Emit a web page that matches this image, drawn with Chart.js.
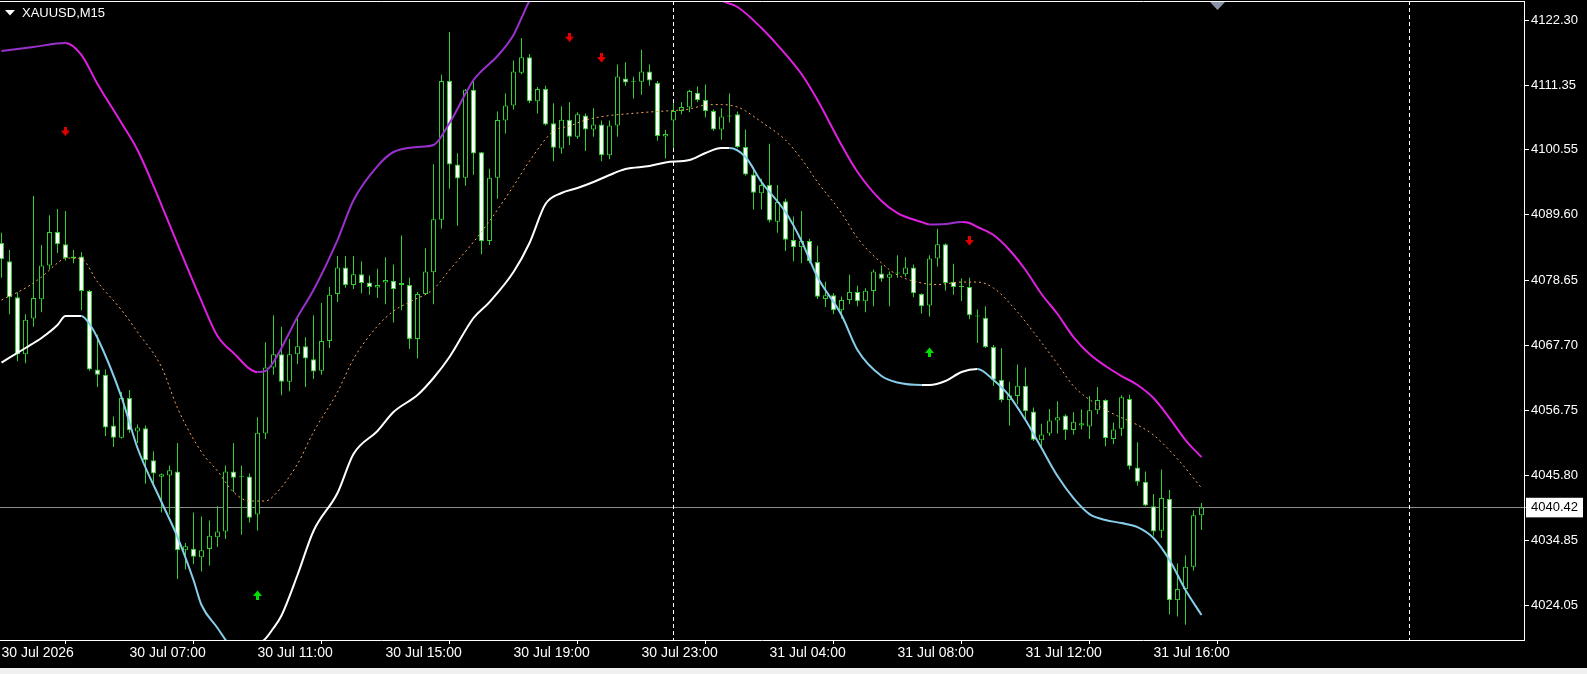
<!DOCTYPE html>
<html><head><meta charset="utf-8">
<script src="https://cdn.jsdelivr.net/npm/chart.js@4.4.1/dist/chart.umd.min.js"></script>
<style>
html,body{margin:0;padding:0;background:#f0f0f0;width:1587px;height:674px;overflow:hidden;}
#wrap{position:absolute;left:0;top:0;width:1587px;height:668px;background:#000;}
#c{position:absolute;left:0;top:0;}
#title{position:absolute;left:22px;top:5px;color:#fff;font:13px "Liberation Sans",Arial,sans-serif;white-space:nowrap;}
</style></head><body>
<div id="wrap"><canvas id="c" width="1587" height="668"></canvas><div id="title">XAUUSD,M15</div></div>
<script>
// ---- candle data (M15 bars, index 0..150) ----
const open = [4084.88,4081.79,4075.76,4066.16,4072.19,4075.42,4081.11,4086.73,4084.67,4082.27,
4082.62,4076.79,4063.62,4062.73,4054.22,4052.16,4058.82,4053.19,4053.74,4048.39,
4045.58,4045.79,4046.47,4033.23,4033.51,4032.07,4033.44,4035.43,4036.39,4046.47,
4045.58,4045.65,4039.27,4052.85,4063.96,4066.16,4061.56,4066.16,4067.53,4065.33,
4063.41,4068.42,4076.31,4080.77,4077.82,4079.60,4078.23,4077.40,4078.23,4078.50,
4078.16,4077.82,4068.76,4076.31,4079.94,4088.79,4112.11,4098.05,4095.85,4110.60,
4100.11,4085.22,4095.85,4105.46,4107.99,4113.48,4116.09,4108.68,4110.74,4104.98,
4100.73,4105.59,4102.71,4106.28,4103.95,4104.77,4099.63,4104.63,4112.52,4111.97,
4111.97,4113.69,4111.77,4102.78,4105.46,4107.03,4107.65,4110.12,4108.89,4107.03,
4103.95,4106.14,4106.49,4101.00,4096.40,4093.25,4094.62,4088.45,4091.88,4085.36,
4084.19,4085.22,4081.66,4075.48,4076.10,4073.56,4075.28,4076.65,4075.07,4076.79,
4079.74,4079.05,4079.74,4079.60,4080.77,4076.31,4074.39,4082.27,4084.67,4078.36,
4077.47,4077.47,4072.53,4072.33,4067.39,4061.90,4058.48,4059.16,4060.88,4056.55,
4051.75,4052.85,4055.05,4055.87,4053.47,4054.22,4054.02,4056.76,4058.48,4051.96,
4053.67,4058.68,4047.16,4044.76,4040.64,4036.53,4041.88,4024.87,4026.72,4030.49,
4039.13];
const high = [4086.60,4083.71,4076.58,4072.88,4092.77,4084.54,4089.54,4090.57,4090.23,4083.71,
4083.30,4076.99,4069.45,4063.62,4055.73,4059.85,4060.19,4054.36,4054.22,4049.90,
4046.13,4047.50,4051.27,4034.47,4039.61,4038.93,4038.24,4040.64,4047.50,4051.27,
4047.50,4046.13,4055.59,4068.21,4072.74,4070.82,4068.76,4072.19,4069.04,4072.74,
4074.80,4077.47,4082.69,4082.69,4082.69,4081.79,4079.39,4080.56,4082.48,4081.25,
4086.12,4079.05,4076.65,4083.99,4098.12,4113.14,4120.34,4099.97,4110.74,4112.11,
4100.18,4097.36,4106.97,4110.05,4115.54,4119.31,4116.64,4111.08,4111.29,4108.34,
4107.86,4108.54,4106.83,4106.62,4107.51,4105.46,4105.46,4114.85,4115.26,4112.80,
4117.32,4114.85,4112.11,4103.88,4108.41,4108.54,4110.60,4111.15,4111.49,4107.31,
4107.51,4110.05,4106.97,4103.95,4097.57,4095.65,4101.55,4094.62,4092.29,4089.34,
4090.23,4085.57,4084.40,4078.36,4076.44,4075.90,4079.53,4077.68,4077.27,4080.42,
4081.11,4080.08,4082.82,4082.48,4081.25,4076.44,4082.82,4087.28,4084.81,4081.38,
4078.91,4079.05,4073.70,4074.25,4067.73,4067.18,4061.56,4064.44,4063.96,4057.24,
4054.50,4056.97,4058.27,4056.08,4056.42,4056.90,4059.16,4060.67,4058.61,4054.70,
4059.30,4059.37,4051.41,4046.47,4042.70,4046.81,4043.39,4031.04,4032.41,4039.96,
4041.19];
const low = [4079.05,4072.88,4064.99,4064.65,4070.82,4073.22,4080.42,4083.17,4081.93,4081.45,
4073.56,4063.41,4060.67,4052.44,4050.59,4052.03,4052.99,4051.27,4044.41,4044.41,
4039.61,4039.27,4028.43,4030.01,4030.90,4029.67,4030.70,4033.78,4035.16,4043.04,
4035.84,4037.90,4036.53,4051.96,4062.73,4059.30,4059.98,4064.51,4060.67,4062.04,
4062.73,4067.25,4074.94,4077.34,4077.13,4076.44,4076.17,4075.62,4074.59,4071.51,
4073.56,4067.05,4065.47,4076.17,4074.59,4087.28,4094.00,4087.76,4094.48,4096.33,
4082.96,4084.54,4092.29,4103.26,4107.31,4113.21,4108.34,4106.62,4104.63,4098.60,
4099.90,4101.34,4102.37,4100.31,4102.71,4098.60,4098.94,4102.71,4111.29,4109.09,
4109.78,4111.29,4102.03,4099.08,4100.86,4106.49,4106.83,4108.54,4106.01,4103.74,
4102.23,4105.11,4100.79,4096.20,4090.50,4090.50,4088.31,4086.60,4083.51,4081.79,
4081.45,4081.45,4075.48,4074.11,4072.88,4072.19,4074.59,4074.25,4073.22,4074.25,
4078.36,4074.25,4079.05,4079.19,4075.76,4073.02,4072.53,4080.90,4076.86,4076.17,
4075.14,4072.05,4068.08,4067.25,4060.88,4058.13,4054.22,4057.79,4055.05,4051.62,
4050.24,4052.44,4052.85,4051.82,4052.64,4053.54,4051.96,4056.08,4050.72,4051.07,
4052.44,4046.81,4044.07,4040.64,4035.70,4035.29,4022.47,4022.12,4020.75,4029.81,
4036.66];
const close = [4082.14,4075.76,4066.16,4071.99,4075.62,4081.11,4086.73,4084.67,4082.34,4082.62,
4076.79,4063.62,4062.73,4053.88,4052.16,4058.82,4053.40,4053.88,4048.39,4046.13,
4046.00,4046.68,4033.23,4033.92,4032.14,4033.23,4035.70,4036.39,4046.47,4045.44,
4045.60,4038.72,4052.99,4063.96,4066.16,4061.56,4066.16,4067.53,4065.47,4063.28,
4068.42,4076.17,4080.77,4077.82,4079.60,4078.16,4077.47,4077.82,4078.64,4077.13,
4077.82,4068.76,4076.31,4080.08,4088.86,4112.11,4098.05,4095.72,4110.60,4099.90,
4085.16,4095.85,4105.53,4107.99,4113.69,4116.09,4108.68,4110.74,4104.77,4100.86,
4105.59,4102.71,4106.49,4103.95,4104.77,4099.63,4104.63,4112.86,4111.84,4111.99,
4113.69,4112.18,4102.85,4103.19,4107.03,4107.72,4110.40,4108.89,4107.03,4103.95,
4106.14,4106.16,4101.00,4096.40,4093.32,4094.62,4088.65,4091.74,4085.43,4084.19,
4085.22,4081.79,4075.83,4076.10,4073.56,4075.28,4076.65,4075.07,4076.86,4080.08,
4078.85,4079.60,4079.76,4080.77,4076.44,4074.25,4082.27,4084.67,4078.16,4077.47,
4077.49,4072.74,4072.55,4067.39,4061.90,4058.48,4059.30,4060.88,4056.62,4051.82,
4052.71,4055.05,4055.59,4053.47,4054.84,4054.57,4056.76,4058.48,4052.10,4053.54,
4058.95,4047.36,4044.76,4040.78,4036.39,4042.01,4024.87,4026.72,4030.49,4039.13,
4040.42];

// ---- indicator lines (read at sampled bar indices) ----
const upperIdx = [0,4,8,10,12,15,17,20,22,25,27,29,32,33,34,37,39,42,44,47,49,52,54,56,59,60,62,64,65,66,68,70,72,74,76,78,80,82,84,86,88,90,92,95,97,100,102,105,107,110,112,115,116,118,120,121,122,124,126,128,130,132,134,136,138,140,142,144,146,148,150];
const upperVal = [4117.13,4117.8,4118.47,4116.45,4111.58,4105.03,4100.49,4091.25,4084.70,4075.12,4069.24,4066.38,4063.19,4063.36,4064.87,4072.43,4076.97,4085.37,4092.06,4097.80,4100.16,4101.00,4101.33,4105.03,4112.25,4113.77,4116.29,4119.81,4122.67,4125.53,4128.5,4131.0,4132.8,4133.8,4134.3,4134.2,4133.5,4132.2,4130.6,4129.0,4127.3,4125.6,4124.52,4120.99,4118.13,4113.26,4108.89,4101.33,4096.80,4091.93,4089.91,4088.40,4087.98,4088.06,4088.40,4088.23,4087.56,4086.21,4083.69,4080.33,4076.30,4072.94,4069.07,4066.22,4064.20,4062.52,4061.01,4058.82,4055.46,4051.76,4048.90];

const midIdx = [0,3,5,7,8,10,12,15,17,20,22,25,27,29,31,33,34,37,39,42,44,47,49,51,54,56,59,61,64,66,69,71,73,76,78,81,83,86,88,90,92,93,95,98,100,102,105,107,110,112,115,117,120,122,124,127,129,132,134,137,139,142,144,147,150];
const midVal = [4075.29,4077.31,4079.15,4081.51,4082.35,4082.18,4078.32,4073.61,4069.91,4064.03,4057.14,4049.75,4046.56,4043.03,4041.52,4041.52,4042.36,4047.74,4053.11,4059.83,4065.38,4070.92,4073.44,4074.95,4077.14,4080.33,4085.04,4088.56,4094.44,4098.64,4103.68,4104.52,4105.53,4106.29,4106.54,4106.88,4107.05,4107.38,4108.05,4108.13,4107.72,4107.05,4105.20,4102.17,4098.98,4095.12,4089.91,4085.71,4081.51,4079.49,4078.15,4077.89,4078.31,4078.31,4077.31,4073.28,4069.91,4064.54,4060.84,4057.65,4056.14,4054.29,4052.61,4048.58,4043.71];

const lowerIdx = [0,3,5,7,8,10,11,12,15,17,20,22,24,25,27,28,29,30,31,32,33,34,35,37,39,42,44,47,49,52,54,56,59,61,64,66,68,70,72,74,76,78,81,83,86,88,90,91,93,95,98,100,102,105,107,110,112,115,116,118,120,122,124,126,128,130,132,134,136,138,140,142,144,146,148,150];
const lowerVal = [4064.79,4067.23,4068.91,4071.09,4072.60,4072.60,4071.26,4068.91,4058.99,4050.43,4041.35,4035.47,4028.25,4024.05,4020.18,4018.2,4016.5,4016.0,4016.3,4017.3,4018.4,4020.18,4022.29,4029.09,4036.48,4042.87,4049.42,4053.28,4056.47,4059.33,4062.19,4065.71,4072.27,4074.95,4079.99,4084.87,4091.42,4093.27,4094.11,4095.12,4096.29,4097.30,4097.80,4098.41,4098.81,4099.99,4100.83,4100.83,4099.32,4095.12,4090.08,4085.20,4079.15,4072.77,4066.88,4062.52,4061.43,4061.01,4061.01,4061.68,4063.20,4063.70,4061.85,4059.16,4055.13,4050.43,4045.72,4042.02,4039.33,4038.33,4037.82,4037.15,4035.31,4031.61,4026.57,4022.37];

// ---- signal arrows ----
const sellIdx = [8,71,75,121];
const sellVal = [4103.60,4119.39,4115.95,4085.20];
const buyIdx = [32,116];
const buyVal = [4025.73,4066.56];

// ---- axes ----
const priceTicks = [4122.30,4111.35,4100.55,4089.60,4078.65,4067.70,4056.75,4045.80,4034.85,4024.05];
const lastPrice = 4040.42;
const timeIdx = [0,16,32,48,64,80,96,112,128,144];
const timeLabels = ['30 Jul 2026','30 Jul 07:00','30 Jul 11:00','30 Jul 15:00','30 Jul 19:00','30 Jul 23:00','31 Jul 04:00','31 Jul 08:00','31 Jul 12:00','31 Jul 16:00'];
const separatorIdx = [84,176];
const shiftIdx = 152;

const X_MIN = -0.1875, X_MAX = 190.3125, Y_MIN = 4018.17, Y_MAX = 4125.53;
const GREEN = '#32CD32';
const FONT = '"Liberation Sans", Arial, sans-serif';

function arrow(color, down) {
  const c = document.createElement('canvas'); c.width = 9; c.height = 10;
  const g = c.getContext('2d'); g.fillStyle = color;
  if (down) {
    g.fillRect(3, 0, 3, 5);
    g.beginPath(); g.moveTo(0, 4); g.lineTo(9, 4); g.lineTo(4.5, 9.5); g.closePath(); g.fill();
  } else {
    g.fillRect(3, 5, 3, 5);
    g.beginPath(); g.moveTo(0, 6); g.lineTo(9, 6); g.lineTo(4.5, 0.5); g.closePath(); g.fill();
  }
  return c;
}

function noPad(s) { s.paddingLeft = 0; s.paddingRight = 0; s.paddingTop = 0; s.paddingBottom = 0; }

const decor = {
  id: 'decor',
  beforeDatasetsDraw(chart) {
    const {ctx, chartArea: a, scales: {x}} = chart;
    ctx.save();
    ctx.beginPath(); ctx.rect(a.left, a.top, a.right - a.left, a.bottom - a.top); ctx.clip();
    ctx.strokeStyle = '#ffffff'; ctx.lineWidth = 1; ctx.setLineDash([4, 3]);
    separatorIdx.forEach(v => {
      const px = Math.floor(x.getPixelForValue(v)) + 0.5;
      ctx.beginPath(); ctx.moveTo(px, a.top); ctx.lineTo(px, a.bottom); ctx.stroke();
    });
    ctx.restore();
  },
  afterDraw(chart) {
    const {ctx, chartArea: a, scales: {x}} = chart;
    ctx.save();
    ctx.strokeStyle = '#ffffff'; ctx.lineWidth = 1;
    ctx.beginPath(); ctx.moveTo(0, a.top + 0.5); ctx.lineTo(a.right + 0.5, a.top + 0.5); ctx.stroke();
    const sx = x.getPixelForValue(shiftIdx);
    ctx.fillStyle = '#8a94a6';
    ctx.beginPath(); ctx.moveTo(sx - 7.5, a.top + 1); ctx.lineTo(sx + 7.5, a.top + 1); ctx.lineTo(sx, a.top + 9); ctx.closePath(); ctx.fill();
    ctx.fillStyle = '#ffffff';
    ctx.beginPath(); ctx.moveTo(5, 10); ctx.lineTo(15, 10); ctx.lineTo(10, 15.5); ctx.closePath(); ctx.fill();
    ctx.restore();
  }
};

const bodies = open.map((o, i) => ({x: i, y: [o, close[i]]}));
const wicks = low.map((l, i) => ({x: i, y: [l, high[i]]}));
const pts = (ix, vs) => ix.map((v, k) => ({x: v, y: vs[k]}));

new Chart(document.getElementById('c'), {
  type: 'bar',
  data: {
    datasets: [
      {type: 'bar', data: wicks, backgroundColor: GREEN, borderWidth: 0, barThickness: 1, grouped: false, inflateAmount: 0, order: 20},
      {type: 'bar', data: bodies,
        backgroundColor: c => (close[c.dataIndex] < open[c.dataIndex] ? '#ffffff' : '#000000'),
        borderColor: GREEN, borderWidth: 1, borderSkipped: false, barThickness: 5, grouped: false,
        inflateAmount: 0, minBarLength: 1, order: 10},
      {type: 'line', data: pts(midIdx, midVal), borderColor: '#F4A460', borderWidth: 1, borderDash: [2, 3],
        pointRadius: 0, cubicInterpolationMode: 'monotone', order: 5},
      {type: 'line', data: pts(upperIdx, upperVal), borderWidth: 2, pointRadius: 0, cubicInterpolationMode: 'monotone',
        borderColor: '#E020E0',
        segment: {borderColor: c => (c.p1.parsed.y >= c.p0.parsed.y ? '#9932CC' : '#E020E0')}, order: 4},
      {type: 'line', data: pts(lowerIdx, lowerVal), borderWidth: 2, pointRadius: 0, cubicInterpolationMode: 'monotone',
        borderColor: '#87CEEB',
        segment: {borderColor: c => (c.p1.parsed.y >= c.p0.parsed.y ? '#FFFFFF' : '#87CEEB')}, order: 4},
      {type: 'scatter', data: pts(sellIdx, sellVal), pointStyle: arrow('#E00000', true), pointRadius: 5, order: 1},
      {type: 'scatter', data: pts(buyIdx, buyVal), pointStyle: arrow('#00E000', false), pointRadius: 5, order: 1}
    ]
  },
  options: {
    responsive: false, animation: false, devicePixelRatio: 1, events: [],
    layout: {padding: {top: 1, left: 0, right: 0, bottom: 0}, autoPadding: false},
    plugins: {legend: {display: false}, tooltip: {enabled: false}},
    scales: {
      x: {
        type: 'linear', min: X_MIN, max: X_MAX, offset: false,
        afterBuildTicks: s => { s.ticks = timeIdx.map(v => ({value: v})); },
        afterFit: s => { s.height = 28; noPad(s); },
        border: {display: true, color: '#ffffff', width: 1},
        grid: {drawOnChartArea: false, drawTicks: true, tickColor: '#ffffff', tickLength: 4},
        ticks: {autoSkip: false, maxRotation: 0, minRotation: 0, align: 'start', padding: 1, color: '#ffffff',
          font: {family: FONT, size: 14},
          callback: v => { const k = timeIdx.indexOf(v); return k >= 0 ? timeLabels[k] : ''; }}
      },
      y: {
        type: 'linear', position: 'right', min: Y_MIN, max: Y_MAX,
        afterBuildTicks: s => { s.ticks = priceTicks.concat([lastPrice]).sort((a, b) => a - b).map(v => ({value: v})); },
        afterFit: s => { s.width = 63; noPad(s); },
        border: {display: true, color: '#ffffff', width: 1},
        grid: {drawOnChartArea: true, tickLength: 5, lineWidth: 1,
          color: c => (c.tick && c.tick.value === lastPrice ? '#8c8c8c' : 'rgba(0,0,0,0)'),
          tickColor: c => (c.tick && c.tick.value === lastPrice ? '#8c8c8c' : '#ffffff')},
        ticks: {autoSkip: false, padding: 2, font: {family: FONT, size: 13},
          color: c => (c.tick && c.tick.value === lastPrice ? '#000000' : '#ffffff'),
          showLabelBackdrop: c => !!(c.tick && c.tick.value === lastPrice),
          backdropColor: '#ffffff', backdropPadding: {top: 2, bottom: 2, left: 5, right: 5},
          callback: v => v.toFixed(2)}
      }
    }
  },
  plugins: [decor]
});
</script></body></html>
